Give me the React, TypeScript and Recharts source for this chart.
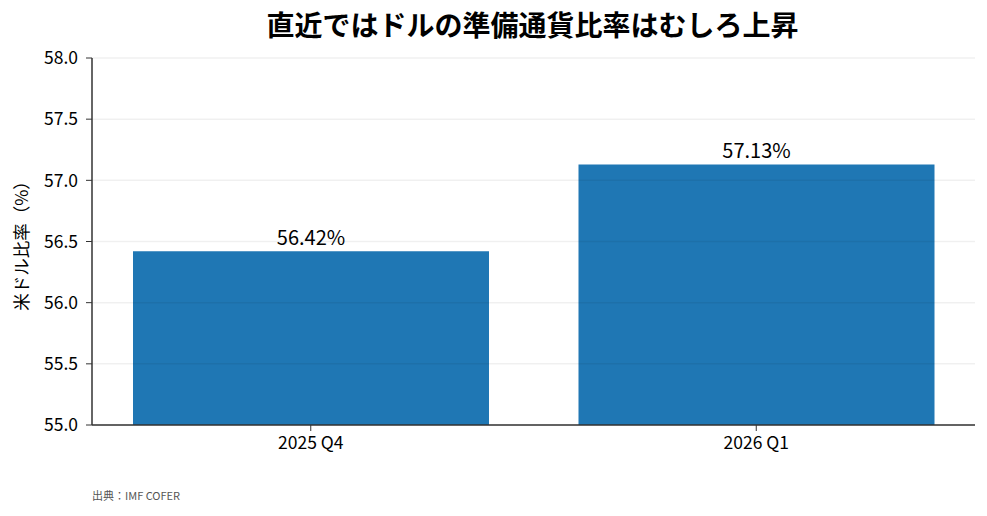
import React from 'react'
import { BarChart, Bar, XAxis, YAxis, ReferenceLine, LabelList, Label } from 'recharts'

const quarters = ['2025 Q4', '2026 Q1']
const usdShare = [56.42, 57.13]
const yTicks = [55.0, 55.5, 56.0, 56.5, 57.0, 57.5, 58.0]

const data = quarters.map((q, i) => ({ quarter: q, share: usdShare[i] }))

const FONT = '"Noto Sans CJK JP", "Noto Sans", sans-serif'

if (typeof document !== 'undefined') document.body.style.margin = '0'

export default function App() {
  return (
    <div style={{ position: 'relative', width: 987, height: 516, background: '#fff', fontFamily: FONT }}>
      <div
        style={{
          position: 'absolute',
          left: 92,
          width: 881,
          top: 4,
          textAlign: 'center',
          fontSize: 28,
          fontWeight: 700,
          color: '#000',
        }}
      >
        直近ではドルの準備通貨比率はむしろ上昇
      </div>
      <BarChart
        width={987}
        height={516}
        data={data}
        margin={{ top: 58, right: 12, bottom: 56, left: 0 }}
        barSize={356}
      >
        <XAxis
          dataKey="quarter"
          height={35}
          padding={{ left: -4, right: -4 }}
          tick={{ fontSize: 17.5, fill: '#000', fontFamily: FONT }}
          tickLine={{ stroke: '#333' }}
          axisLine={{ stroke: '#333', strokeWidth: 1.5 }}
          tickSize={6}
          tickMargin={6}
        />
        <YAxis
          width={92}
          domain={[55, 58]}
          ticks={yTicks}
          tickFormatter={(v: number) => v.toFixed(1)}
          tick={{ fontSize: 17.5, fill: '#000', fontFamily: FONT }}
          tickLine={{ stroke: '#333' }}
          axisLine={{ stroke: '#333', strokeWidth: 1.5 }}
          tickSize={6}
          tickMargin={8}
          allowDataOverflow
        >
          <Label
            value="米ドル比率（%）"
            angle={-90}
            position="insideLeft"
            offset={22}
            style={{ fontSize: 17.5, fill: '#000', fontFamily: FONT, textAnchor: 'middle' }}
          />
        </YAxis>
        <Bar dataKey="share" fill="#1f77b4" isAnimationActive={false}>
          <LabelList
            dataKey="share"
            position="top"
            offset={6}
            formatter={(v: number) => `${v.toFixed(2)}%`}
            style={{ fontSize: 20, fill: '#000', fontFamily: FONT }}
          />
        </Bar>
        {yTicks.map((t) => (
          <ReferenceLine key={t} y={t} stroke="#000" strokeOpacity={0.06} strokeWidth={1.5} />
        ))}
      </BarChart>
      <div style={{ position: 'absolute', left: 92, top: 487, fontSize: 11, color: '#555' }}>
        出典：IMF COFER
      </div>
    </div>
  )
}
